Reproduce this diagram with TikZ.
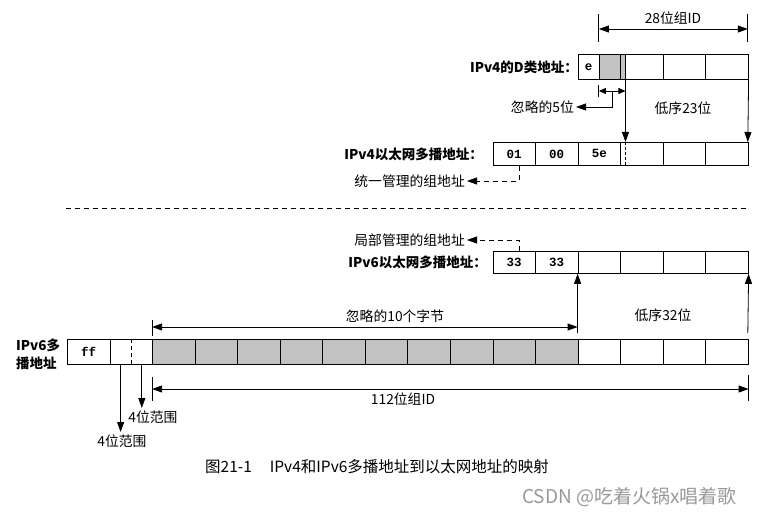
\documentclass[tikz,border=0pt]{standalone}
\usepackage{fontspec}
\usetikzlibrary{arrows.meta}
\setmainfont{Liberation Serif}
\newfontfamily\cjk{Noto Sans CJK SC}
\newfontfamily\monof{Liberation Mono}
\begin{document}
\begin{tikzpicture}[x=1pt,y=-1pt,
  lab/.style={font=\cjk\fontsize{13.8}{14}\selectfont, inner sep=0pt},
  blab/.style={font=\cjk\bfseries\fontsize{13.5}{14}\selectfont, inner sep=0pt},
  cell/.style={draw, line width=0.8pt, inner sep=0pt, anchor=north west,
    minimum width=42.55pt, font=\monof\bfseries\fontsize{12.5}{12.5}\selectfont},
  halfcell/.style={cell, minimum width=21.275pt},
  shadecell/.style={cell, fill=black!24},
  tip/.style={-{Triangle[length=10pt,width=7pt]}},
  arr/.style={line width=0.8pt, tip},
  darr/.style={line width=0.8pt, {Triangle[length=10pt,width=7pt]}-{Triangle[length=10pt,width=7pt]}},
  sarr/.style={line width=0.8pt, {Triangle[length=7pt,width=6pt]}-{Triangle[length=7pt,width=6pt]}},
  tick/.style={line width=0.8pt},
  dsh/.style={line width=0.8pt, dash pattern=on 5pt off 4pt},
]
\useasboundingbox (0,0) rectangle (759,513);

% ---------- IPv4 class D address ----------
\node[halfcell, minimum height=25pt] (d0a) at (577.6,54) {e};
\node[halfcell, minimum height=25pt, fill=black!24] (d0b) at (598.875,54) {};
\node[cell, minimum height=25pt] (d1) at (620.15,54) {};
\node[cell, minimum height=25pt] (d2) at (662.7,54) {};
\node[cell, minimum height=25pt] (d3) at (705.25,54) {};
\fill[black!24] (d1.north west) rectangle ([xshift=5.32pt]d1.south west);
\draw[line width=0.8pt] (d1.north west) rectangle (d1.south east);
\draw[line width=1.3pt] (d1.north west) -- (d1.south west);
\draw[tick] ([xshift=5.32pt]d1.north west) -- ([xshift=5.32pt]d1.south west);
\node[blab, anchor=east] (ld) at (578,67) {IPv4的D类地址：};

% 28-bit group ID
\coordinate (g28a) at (598.875,14);
\coordinate (g28b) at (747.8,14);
\draw[tick] (g28a) -- (598.875,42);
\draw[tick] (g28b) -- (747.8,42);
\draw[darr] (g28a |- 0,29) -- (g28b |- 0,29);
\node[lab] (l28) at (673,18) {28位组ID};

% ignored 5 bits
\coordinate (i5a) at (598.875,91);
\coordinate (i5b) at (625.47,91);
\draw[tick] (598.875,85) -- (598.875,97);
\draw[tick] (625.47,85) -- (625.47,97);
\draw[sarr] (i5a) -- (i5b);
\node[lab, anchor=east, inner xsep=2pt] (l5) at (576,107) {忽略的5位};
\draw[arr] (612.2,91) -- (612.2,107) -- (l5.east);

% low-order 23 bits
\draw[arr] ([xshift=5.32pt]d1.south west) -- (625.47,142);
\draw[arr] (d3.south east) -- (747.8,142);
\node[lab] (l23) at (683,108) {低序23位};

% ---------- IPv4 Ethernet multicast address ----------
\node[cell, minimum height=23pt] (a0) at (492.5,142) {01};
\node[cell, minimum height=23pt] (a1) at (535.05,142) {00};
\node[cell, minimum height=23pt] (a2) at (577.6,142) {5e};
\node[cell, minimum height=23pt] (a3) at (620.15,142) {};
\node[cell, minimum height=23pt] (a4) at (662.7,142) {};
\node[cell, minimum height=23pt] (a5) at (705.25,142) {};
\draw[dsh, dash pattern=on 3pt off 2pt] ([xshift=5.32pt]a3.north west) -- ([xshift=5.32pt]a3.south west);
\node[blab, anchor=east] (la) at (483,154) {IPv4以太网多播地址：};
\node[lab, anchor=east, inner xsep=2pt] (lu) at (467,181) {统一管理的组地址};
\draw[dsh, tip] (a0.south -| 519,0) -- (519,181) -- (lu.east);

% separator
\draw[dsh] (66,208) -- (748,208);

% ---------- IPv6 Ethernet multicast address ----------
\node[cell, minimum height=22pt] (b0) at (492.5,251) {33};
\node[cell, minimum height=22pt] (b1) at (535.05,251) {33};
\node[cell, minimum height=22pt] (b2) at (577.6,251) {};
\node[cell, minimum height=22pt] (b3) at (620.15,251) {};
\node[cell, minimum height=22pt] (b4) at (662.7,251) {};
\node[cell, minimum height=22pt] (b5) at (705.25,251) {};
\node[blab, anchor=east] (lb) at (487,262) {IPv6以太网多播地址：};
\node[lab, anchor=east, inner xsep=2pt] (ll) at (467,240) {局部管理的组地址};
\draw[dsh, tip] (b0.north -| 519,0) -- (519,240) -- (ll.east);

% ---------- IPv6 multicast address ----------
\node[cell, minimum height=25pt] (v0) at (67,339) {ff};
\node[cell, minimum height=25pt] (v1) at (109.55,339) {};
\foreach \i in {2,...,11} {
  \node[shadecell, minimum height=25pt] (v\i) at ({67+\i*42.55},339) {};
}
\foreach \i in {12,...,15} {
  \node[cell, minimum height=25pt] (v\i) at ({67+\i*42.55},339) {};
}
\draw[dsh, dash pattern=on 4pt off 3pt] (v1.north) -- (v1.south);
\node[blab, anchor=west] (lv1) at (16,345) {IPv6多};
\node[blab, anchor=west] (lv2) at (16,363) {播地址};

% up arrows to IPv6 Ethernet address
\coordinate (u1) at (577.6,333);
\coordinate (u2) at (747.8,333);
\draw[arr] (u1) -- (b2.south west);
\draw[arr] (u2) -- (b5.south east);
\node[lab] (l32) at (663,315) {低序32位};

% ignored 10 bytes
\draw[tick] (v2.north west |- 0,320) -- (v2.north west |- 0,336);
\draw[darr] (v2.north west |- 0,327) -- (u1 |- 0,327);
\node[lab] (l10) at (395,316) {忽略的10个字节};

% 112-bit group ID
\draw[tick] (v2.south west |- 0,377) -- (v2.south west |- 0,401);
\draw[tick] (v15.south east |- 0,375) -- (v15.south east |- 0,401);
\draw[darr] (v2.south west |- 0,389) -- (v15.south east |- 0,389);
\node[lab] (l112) at (403,399) {112位组ID};

% 4-bit scope fields
\node[lab] (ls1) at (153,417) {4位范围};
\node[lab] (ls2) at (122,441) {4位范围};
\draw[line width=0.8pt, -{Triangle[length=10pt,width=7pt]}] ([xshift=-10.6pt]v1.south) -- ([xshift=-10.6pt]v1.south |- 0,432);
\draw[line width=0.8pt, -{Triangle[length=10pt,width=7pt]}] ([xshift=10.6pt]v1.south) -- ([xshift=10.6pt]v1.south |- 0,408);

% caption and watermark
\node[anchor=west, font=\cjk\fontsize{15.5}{16}\selectfont, inner sep=0pt] (cap) at (205,467) {图21-1\hspace{18pt}IPv4和IPv6多播地址到以太网地址的映射};
\node[anchor=west, font=\cjk\fontsize{19}{19}\selectfont, text=black!40, inner sep=0pt] (wm) at (522,497) {CSDN @吃着火锅x唱着歌};
\end{tikzpicture}
\end{document}
